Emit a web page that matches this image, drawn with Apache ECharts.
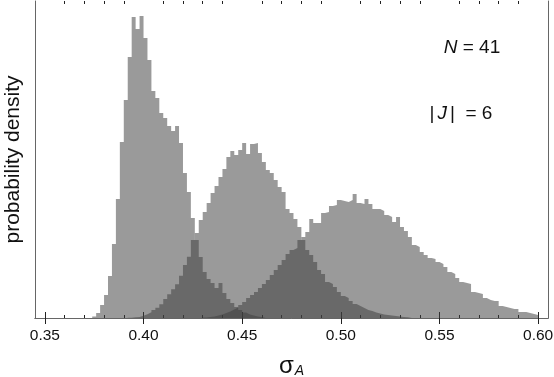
<!DOCTYPE html>
<html>
<head>
<meta charset="utf-8">
<script src="https://cdn.jsdelivr.net/npm/echarts@6.0.0/dist/echarts.min.js"></script>
<style>
  html, body { margin: 0; padding: 0; background: #fff; }
  #chart { width: 554px; height: 377px; }
</style>
</head>
<body>
<div id="chart"></div>
<script>
// histogram bins, width 0.002
var binWidth = 0.002;

var h1Start = 0.374;
var h1Values = [0.15, 0.5, 1.3, 2.3, 4.2, 7.4, 11.9, 17.6, 21.8, 26.1, 30.1, 28.9, 30.2, 28.0, 25.8, 22.7,
  22.0, 20.5, 20.0, 19.2, 18.7, 19.2, 17.5, 14.5, 12.6, 10.0, 7.8, 6.1, 4.6, 3.9, 3.5, 3.0, 3.5, 2.5,
  1.9, 1.5, 1.1, 0.8, 0.55, 0.35, 0.25, 0.15, 0.1, 0.05];

var h2Start = 0.392;
var h2Values = [0.03, 0.07, 0.1, 0.23, 0.37, 0.57, 0.8, 1.03, 1.37, 1.9, 2.37, 2.87, 3.37, 4.23, 5.3, 6.13,
  7.8, 8.5, 9.8, 10.6, 11.5, 12.5, 13.2, 14.1, 14.9, 16.1, 16.7, 16.3, 16.8, 17.5, 16.4, 17.4, 17.5, 16.5,
  15.6, 14.8, 14.5, 13.8, 13.1, 12.6, 10.9, 10.5, 9.9, 9.1, 7.8, 6.8, 6.3, 5.6, 4.8, 4.4, 3.6, 3.4, 3.1,
  2.6, 2.2, 2.0, 1.7, 1.4, 1.2, 1.0, 0.8, 0.7, 0.55, 0.45, 0.35, 0.3, 0.25, 0.2, 0.15, 0.1, 0.07, 0.05];

var h3Start = 0.430;
var h3Values = [0.05, 0.1, 0.15, 0.25, 0.35, 0.5, 0.65, 0.85, 1.05, 1.3, 1.6, 2.0, 2.3, 2.6, 3.0, 3.4, 3.8,
  4.3, 4.8, 5.3, 5.8, 6.4, 6.8, 7.0, 7.8, 8.1, 8.6, 9.9, 9.5, 9.5, 10.5, 10.6, 11.2, 11.3, 11.8, 11.7,
  11.6, 11.8, 12.4, 11.5, 11.4, 11.9, 11.4, 10.9, 10.9, 10.7, 10.3, 10.1, 9.6, 10.1, 9.1, 8.7, 8.1, 7.3,
  7.1, 6.6, 6.3, 6.0, 5.9, 5.6, 5.4, 5.1, 4.6, 4.4, 4.0, 3.6, 3.5, 3.4, 2.6, 2.5, 2.4, 2.0, 1.8, 1.7,
  1.7, 1.2, 1.1, 1.0, 0.9, 0.9, 0.6, 0.6, 0.5, 0.4, 0.3];

var majorTicks = [0.35, 0.40, 0.45, 0.50, 0.55, 0.60];
var minorTicks = [0.36, 0.37, 0.38, 0.39, 0.41, 0.42, 0.43, 0.44, 0.46, 0.47, 0.48, 0.49,
  0.51, 0.52, 0.53, 0.54, 0.56, 0.57, 0.58, 0.59];

var font = '"Liberation Sans", Arial, sans-serif';
var frameColor = '#666';
var tickColor = '#222';

function stepData(start, values) {
  var pts = [];
  for (var i = 0; i < values.length; i++) {
    pts.push([start + i * binWidth, values[i]]);
  }
  pts.push([start + values.length * binWidth, 0]);
  return pts;
}

function histSeries(start, values) {
  return {
    type: 'line',
    step: 'end',
    xAxisIndex: 0,
    yAxisIndex: 0,
    data: stepData(start, values),
    symbol: 'none',
    silent: true,
    lineStyle: { width: 0, opacity: 0 },
    areaStyle: { color: '#3e3e3e', opacity: 0.52 }
  };
}

function xAxisDef(grid, pos, ticks, len, labels, showLine) {
  return {
    type: 'value',
    gridIndex: grid,
    position: pos,
    min: 0.345,
    max: 0.605,
    axisLine: { show: showLine, lineStyle: { color: frameColor, width: 1 } },
    axisTick: { show: true, inside: true, length: len, customValues: ticks,
      lineStyle: { color: tickColor, width: 1 } },
    axisLabel: labels ? {
      customValues: ticks, margin: 10, fontSize: 15.5, color: '#111', fontFamily: font,
      formatter: function (v) { return v.toFixed(2); }
    } : { show: false },
    splitLine: { show: false }
  };
}

var chart = echarts.init(document.getElementById('chart'));

var xMainBottom = xAxisDef(0, 'bottom', majorTicks, 6, true, true);
xMainBottom.name = '{s|σ}{a|A}';
xMainBottom.nameLocation = 'middle';
xMainBottom.nameGap = 36;
xMainBottom.nameTextStyle = {
  fontFamily: font, color: '#111',
  rich: {
    s: { fontSize: 24, lineHeight: 24, fontFamily: font, color: '#111' },
    a: { fontSize: 14, lineHeight: 10, fontStyle: 'italic', verticalAlign: 'bottom',
      fontFamily: font, color: '#111', padding: [0, 0, 0, 1] }
  }
};

var option = {
  animation: false,
  backgroundColor: '#fff',
  grid: [
    { left: 35, right: 6, top: 1, bottom: 59, outerBoundsMode: 'none' },
    { left: 35, right: 6, top: 1, bottom: 59, outerBoundsMode: 'none' }
  ],
  xAxis: [
    xMainBottom,
    xAxisDef(0, 'top', majorTicks, 6, false, true),
    xAxisDef(1, 'bottom', minorTicks, 3, false, false),
    xAxisDef(1, 'top', minorTicks, 3, false, false)
  ],
  yAxis: [
    {
      type: 'value', gridIndex: 0, position: 'left', min: 0, max: 31.7,
      axisLine: { show: true, lineStyle: { color: frameColor } },
      axisTick: { show: false }, axisLabel: { show: false }, splitLine: { show: false },
      name: 'probability density', nameLocation: 'middle', nameRotate: 90, nameGap: 11,
      nameTextStyle: { fontSize: 21, color: '#111', fontFamily: font }
    },
    {
      type: 'value', gridIndex: 0, position: 'right', min: 0, max: 31.7,
      axisLine: { show: true, lineStyle: { color: frameColor } },
      axisTick: { show: false }, axisLabel: { show: false }, splitLine: { show: false }
    },
    {
      type: 'value', gridIndex: 1, min: 0, max: 31.7, show: false
    }
  ],
  graphic: [
    {
      type: 'text', x: 472, y: 48,
      style: {
        text: '{i|N} = 41', align: 'center', verticalAlign: 'middle',
        font: '19px ' + font, fill: '#111',
        rich: { i: { fontStyle: 'italic', fontSize: 19, fontFamily: font, fill: '#111' } }
      }
    },
    {
      type: 'text', x: 461, y: 114,
      style: {
        text: '|{i|J}|  = 6', align: 'center', verticalAlign: 'middle',
        font: '19px ' + font, fill: '#111',
        rich: { i: { fontStyle: 'italic', fontSize: 19, fontFamily: font, fill: '#111', padding: [0, 3, 0, 3] } }
      }
    }
  ],
  series: [
    histSeries(h1Start, h1Values),
    histSeries(h2Start, h2Values),
    histSeries(h3Start, h3Values)
  ]
};

chart.setOption(option);
</script>
</body>
</html>
